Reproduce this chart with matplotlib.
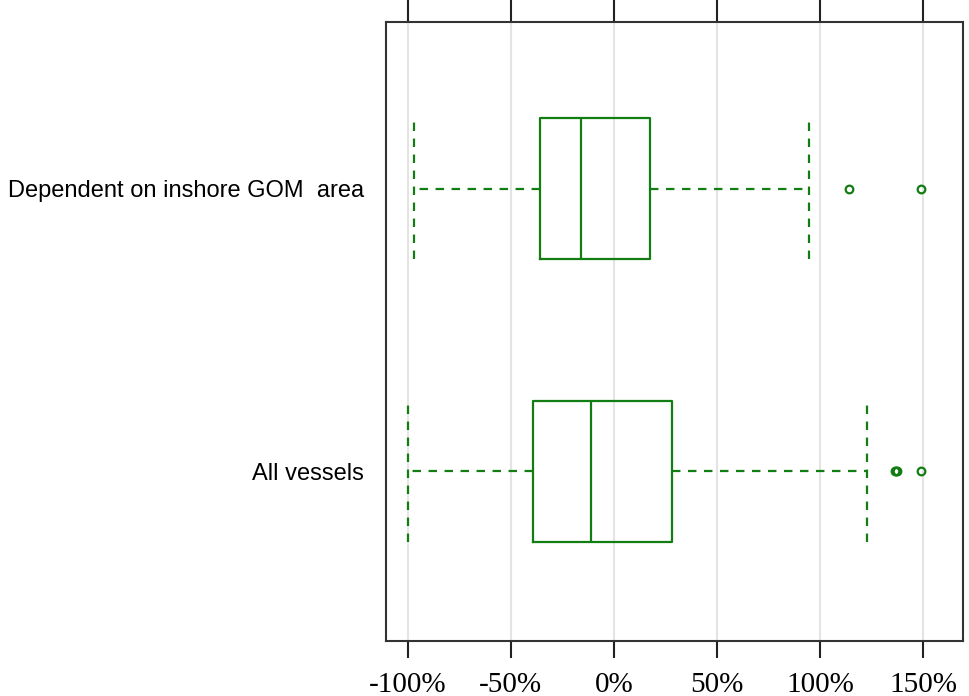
import matplotlib.pyplot as plt

# groups, bottom to top
groups = ["All vessels", "Dependent on inshore GOM  area"]

# box statistics (percent change)
whislo = [-100, -97]
q1 = [-39, -36]
med = [-11, -16]
q3 = [28, 17.5]
whishi = [123, 94.5]
fliers = [[136.5, 137, 137.5, 149], [114, 149]]

xticks = [-100, -50, 0, 50, 100, 150]

green = "#127d12"

stats = []
for i in range(len(groups)):
    stats.append({"label": groups[i], "whislo": whislo[i], "q1": q1[i], "med": med[i],
                  "q3": q3[i], "whishi": whishi[i], "fliers": fliers[i]})

fig = plt.figure(figsize=(9.7, 6.96), dpi=100)
ax = fig.add_axes([386 / 970, 55 / 696, 577 / 970, 619 / 696])

dash = (0, (3.8, 3.4))
ax.bxp(stats, positions=[1, 2], vert=False, widths=0.5, capwidths=0.5,
       boxprops=dict(color=green, lw=1.6),
       medianprops=dict(color=green, lw=1.6),
       whiskerprops=dict(color=green, lw=1.6, linestyle=dash),
       capprops=dict(color=green, lw=1.6, linestyle=dash),
       flierprops=dict(marker="o", markerfacecolor="none", markeredgecolor=green,
                       markersize=5.5, markeredgewidth=1.6),
       zorder=3)

ax.set_xlim(-110.5, 169.4)
ax.set_ylim(0.4, 2.59)
ax.set_xticks(xticks)
ax.set_xticklabels([f"{v}%" for v in xticks], family="Liberation Serif", fontsize=21)
ax.set_yticks([1, 2])
ax.set_yticklabels(groups, family="Liberation Sans", fontsize=17)

ax.grid(axis="x", color="#e4e4e4", lw=1.5, zorder=0)
ax.tick_params(axis="x", top=True, bottom=True, labeltop=False, direction="out",
               length=12, width=1.5, color="#222222", pad=10)
ax.tick_params(axis="y", length=0, pad=16)
for t in ax.xaxis.get_major_ticks():
    t.tick2line.set_markersize(16)
for s in ax.spines.values():
    s.set_linewidth(1.5)
    s.set_color("#333333")

fig.savefig("out.png", dpi=100)
